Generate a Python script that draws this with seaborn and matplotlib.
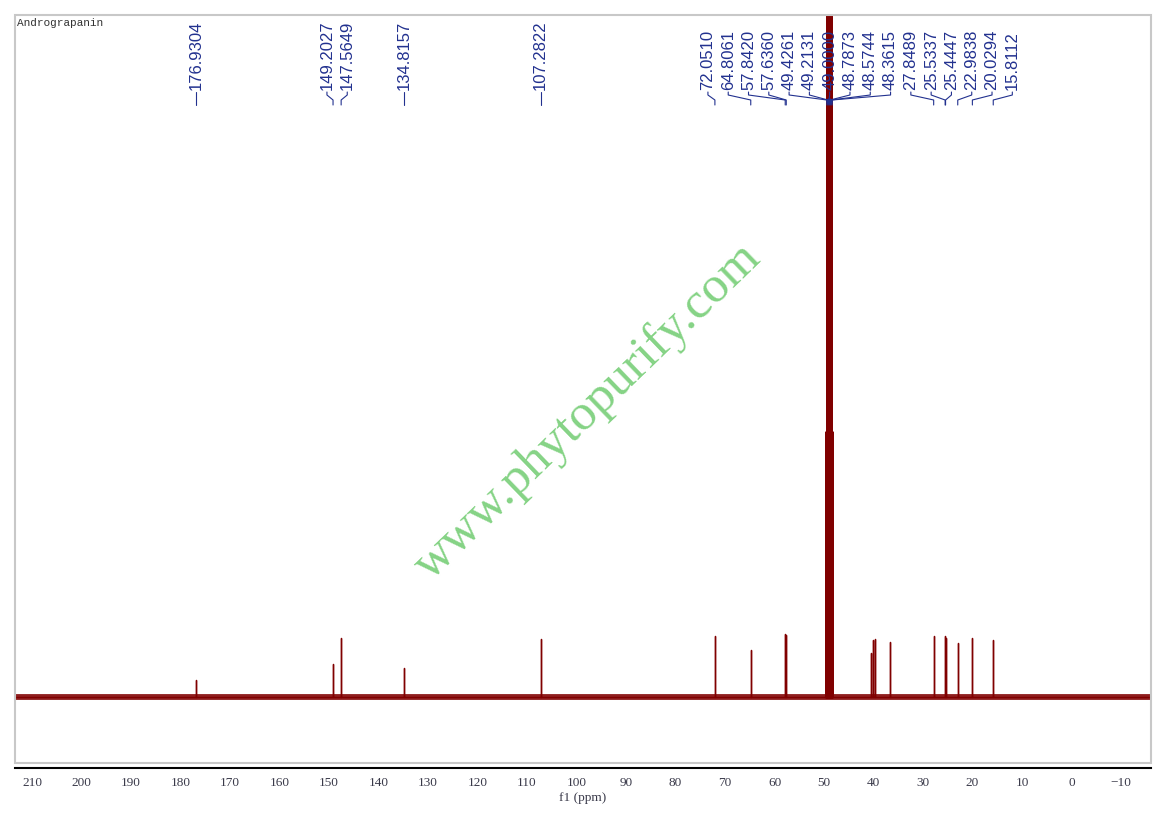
import numpy as np
import pandas as pd
import matplotlib
matplotlib.use("Agg")
import matplotlib.pyplot as plt
import seaborn as sns
from matplotlib import transforms
from matplotlib.patches import Rectangle

# -----------------------------
# Spectrum data
# -----------------------------
TITLE = "Andrograpanin"
WATERMARK = "www.phytopurify.com"

# sample peaks: chemical shift (ppm) and height (arbitrary units)
PEAK_PPM = [176.93, 149.20, 147.56, 134.82, 107.28, 72.05, 64.81, 57.84, 57.64,
            40.60, 40.15, 39.67, 36.60, 27.85, 25.53, 25.44, 22.98, 20.03, 15.81]
PEAK_HEIGHT = [17, 33, 59, 29, 58, 61, 47, 63, 62,
               44, 57, 58, 55, 61, 61, 59, 54, 59, 57]

# CD3OD solvent septet (goes off scale)
SOLVENT_PPM = [49.64, 49.43, 49.21, 49.00, 48.79, 48.57, 48.36]
SOLVENT_HEIGHT = [265, 800, 1600, 1880, 1600, 800, 265]

# picked peak labels
LABEL_PPM = [176.9304, 149.2027, 147.5649, 134.8157, 107.2822, 72.0510, 64.8061,
             57.8420, 57.6360, 49.4261, 49.2131, 49.0000, 48.7873, 48.5744,
             48.3615, 27.8489, 25.5337, 25.4447, 22.9838, 20.0294, 15.8112]

XTICKS = [210, 200, 190, 180, 170, 160, 150, 140, 130, 120, 110, 100,
          90, 80, 70, 60, 50, 40, 30, 20, 10, 0, -10]

# -----------------------------
# Build the traces (stick spectrum)
# -----------------------------
XMIN, XMAX = 213.4, -16.0


def sticks(ppm, height, ends=False):
    order = np.argsort(ppm)[::-1]
    xs, ys = ([XMIN], [0.0]) if ends else ([], [])
    for i in order:
        xs += [ppm[i], ppm[i], ppm[i]]
        ys += [0.0, height[i], 0.0]
    if ends:
        xs.append(XMAX)
        ys.append(0.0)
    return pd.DataFrame({"ppm": xs, "intensity": ys})


trace = sticks(PEAK_PPM, PEAK_HEIGHT, ends=True)
solvent = sticks(SOLVENT_PPM, SOLVENT_HEIGHT)

# -----------------------------
# Figure
# -----------------------------
sns.set_style("white")
plt.rcParams["font.family"] = ["Liberation Sans", "DejaVu Sans"]

W, H = 1164, 816
fig = plt.figure(figsize=(W / 100, H / 100), dpi=100)
left, right, top, bottom = 15.3, 1150.7, 15.0, 763.3
ax = fig.add_axes([left / W, 1 - bottom / H, (right - left) / W, (bottom - top) / H])

RED = "#800000"
BLUE = "#22318f"

ax.axhline(0, color=RED, lw=4.2, alpha=0.88, zorder=1)
sns.lineplot(data=trace, x="ppm", y="intensity", sort=False, estimator=None,
             color=RED, lw=1.0, ax=ax, zorder=2)
sns.lineplot(data=solvent, x="ppm", y="intensity", sort=False, estimator=None,
             color=RED, lw=1.8, ax=ax, zorder=2)

ax.set_xlim(XMIN, XMAX)
ax.set_ylim(-66, 682)
ax.set_yticks([])
ax.set_ylabel("")

# axis styling: gray frame + black ppm axis slightly below
for s in ["top", "left", "right"]:
    ax.spines[s].set_visible(False)
ax.spines["bottom"].set_position(("outward", 3.6))
ax.spines["bottom"].set_color("black")
ax.spines["bottom"].set_linewidth(1.5)
ax.add_patch(Rectangle((0, 0), 1, 1, transform=ax.transAxes, fill=False,
                       edgecolor="#c8c8c8", lw=1.5, clip_on=False, zorder=5))

ax.set_xticks(XTICKS)
ax.set_xticks(np.arange(205, -16, -10), minor=True)
ax.set_xticklabels([str(t).replace("-", "\u2212") for t in XTICKS],
                   family="Liberation Serif", fontsize=9.5, color="#3a3a4a")
ax.tick_params(axis="x", which="major", direction="out", length=3.6, width=1.1,
               pad=2.5, color="black")
ax.tick_params(axis="x", which="minor", direction="out", length=2.2, width=1.1,
               color="black")
ax.set_xlabel("f1 (ppm)", family="Liberation Serif", fontsize=9.5,
              color="#3a3a4a", labelpad=2)

ax.text(0.0015, 0.996, TITLE, transform=ax.transAxes, ha="left", va="top",
        family="Liberation Mono", fontsize=8, color="#333333")

# -----------------------------
# Peak labels with spread-out leader lines
# -----------------------------
def yfrac(ypix):
    return (bottom - ypix) / (bottom - top)


blend = transforms.blended_transform_factory(ax.transData, ax.transAxes)

GAP = 4.1  # ppm between neighbouring labels
targets = [-p for p in LABEL_PPM]  # ascending
clusters = [[i] for i in range(len(targets))]


def place(cl):
    c = np.mean([targets[i] for i in cl])
    n = len(cl)
    return [c + (k - (n - 1) / 2) * GAP for k in range(n)]


merged = True
while merged:
    merged = False
    for k in range(len(clusters) - 1):
        a, b = place(clusters[k]), place(clusters[k + 1])
        if b[0] - a[-1] < GAP:
            clusters[k] = clusters[k] + clusters[k + 1]
            del clusters[k + 1]
            merged = True
            break

label_pos = []
for cl in clusters:
    label_pos += place(cl)

for p, u in zip(LABEL_PPM, label_pos):
    lx = -u
    ax.text(lx, yfrac(90), f"{p:.4f}", transform=blend, rotation=90,
            ha="center", va="bottom", fontsize=12, color=BLUE)
    ax.plot([lx, lx, p, p], [yfrac(92), yfrac(95), yfrac(100), yfrac(105)],
            transform=blend, color=BLUE, lw=0.8, clip_on=False)

ax.plot([49.0], [yfrac(100.5)], transform=blend, marker="o", ms=3.5,
        color=BLUE, clip_on=False, zorder=6)

# watermark
fig.text(588 / W, 1 - 412 / H, WATERMARK, rotation=44, rotation_mode="anchor",
         ha="center", va="center", family="Liberation Serif", fontsize=37,
         color="#5cc45c", alpha=0.75)

fig.savefig("out.png", dpi=100)
